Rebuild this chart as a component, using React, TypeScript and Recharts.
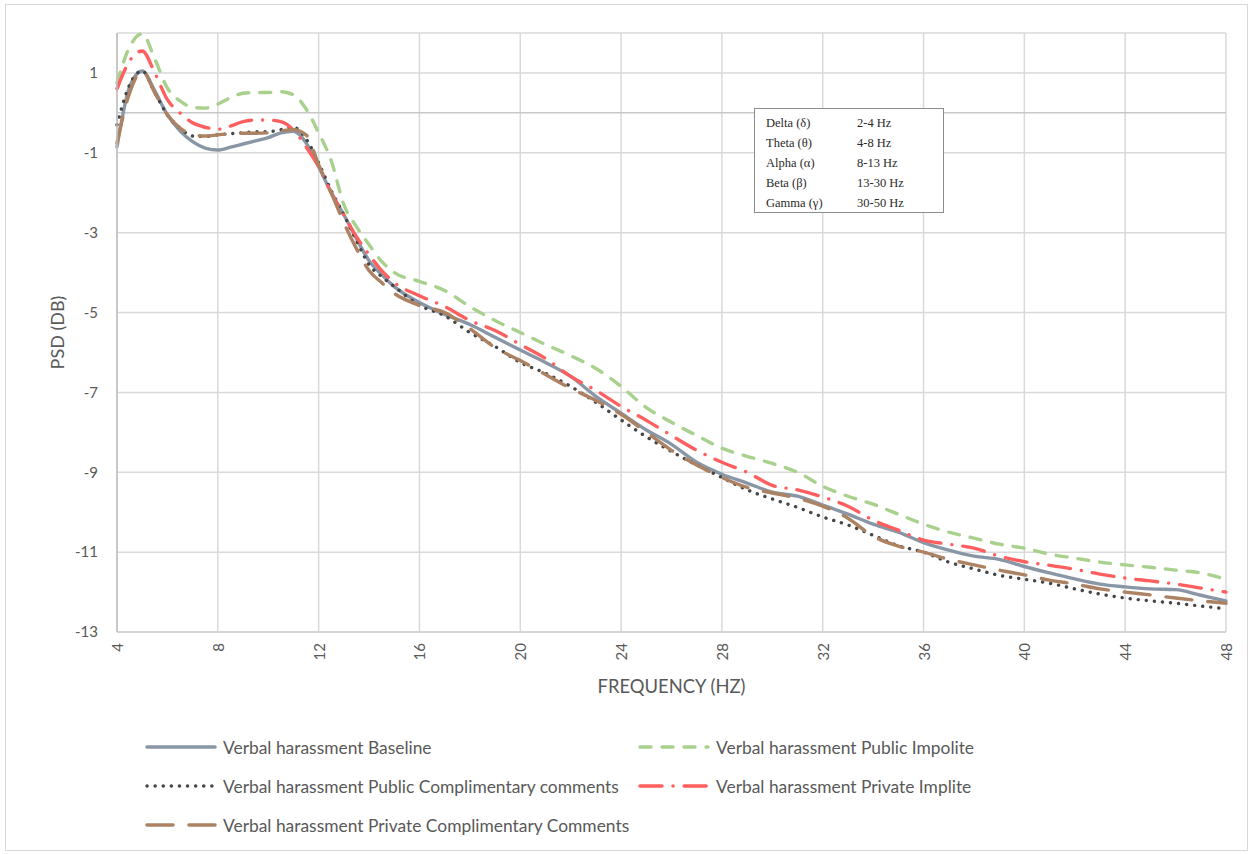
import React from 'react';
import { LineChart, Line, XAxis, YAxis, CartesianGrid, ReferenceLine, Legend, Label } from 'recharts';

const FREQ = [4, 4.5, 5, 5.5, 6, 6.5, 7, 7.5, 8, 8.5, 9, 9.5, 10, 10.5, 11, 11.5, 12, 12.5, 13, 13.5, 14, 14.5, 15,
  16, 17, 18, 19, 20, 21, 22, 23, 24, 25, 26, 27, 28, 29, 30, 31, 32, 33, 34, 35, 36, 37, 38, 39, 40, 41, 42, 43, 44, 45, 46, 47, 48];

const BASELINE = [-0.85, 0.65, 1.05, 0.55, -0.05, -0.45, -0.72, -0.88, -0.93, -0.86, -0.78, -0.7, -0.62, -0.5, -0.46, -0.75, -1.35, -2.0, -2.55, -3.15, -3.7, -4.05, -4.35,
  -4.75, -5.05, -5.3, -5.62, -5.94, -6.25, -6.6, -7.1, -7.52, -7.94, -8.3, -8.75, -9.05, -9.27, -9.5, -9.6, -9.82, -10.05, -10.3, -10.5, -10.76, -10.95, -11.1, -11.18, -11.36, -11.52, -11.67, -11.8, -11.87, -11.92, -11.94, -12.08, -12.22];

const PUBLIC_IMPOLITE = [0.75, 1.65, 1.98, 1.35, 0.62, 0.3, 0.14, 0.12, 0.22, 0.38, 0.49, 0.51, 0.51, 0.53, 0.45, 0.1, -0.5, -1.2, -2.3, -2.85, -3.3, -3.72, -4.0,
  -4.22, -4.45, -4.85, -5.2, -5.5, -5.8, -6.08, -6.4, -6.85, -7.38, -7.75, -8.08, -8.4, -8.6, -8.78, -9.0, -9.35, -9.6, -9.8, -10.05, -10.3, -10.5, -10.65, -10.8, -10.9, -11.05, -11.15, -11.25, -11.32, -11.38, -11.45, -11.52, -11.68];

const PUBLIC_COMPLIMENTARY = [-0.3, 0.7, 1.05, 0.5, -0.05, -0.38, -0.58, -0.59, -0.55, -0.52, -0.5, -0.47, -0.47, -0.42, -0.36, -0.65, -1.25, -1.95, -2.55, -3.2, -3.8, -4.1, -4.35,
  -4.82, -5.08, -5.5, -5.85, -6.25, -6.52, -6.85, -7.25, -7.69, -8.11, -8.48, -8.82, -9.13, -9.44, -9.67, -9.88, -10.12, -10.32, -10.58, -10.84, -11.0, -11.25, -11.42, -11.58, -11.68, -11.78, -11.92, -12.05, -12.15, -12.22, -12.28, -12.35, -12.42];

const PRIVATE_IMPOLITE = [0.6, 1.3, 1.55, 1.0, 0.33, 0.0, -0.25, -0.36, -0.41, -0.33, -0.22, -0.18, -0.18, -0.22, -0.43, -0.85, -1.35, -2.0, -2.55, -3.1, -3.55, -3.95, -4.25,
  -4.58, -4.85, -5.2, -5.45, -5.8, -6.15, -6.6, -6.95, -7.35, -7.7, -8.08, -8.45, -8.75, -9.0, -9.33, -9.44, -9.62, -9.85, -10.2, -10.45, -10.7, -10.8, -10.9, -11.1, -11.24, -11.33, -11.43, -11.55, -11.65, -11.72, -11.8, -11.9, -12.0];

const PRIVATE_COMPLIMENTARY = [-0.75, 0.5, 1.05, 0.5, -0.05, -0.38, -0.55, -0.58, -0.55, -0.52, -0.51, -0.51, -0.5, -0.45, -0.42, -0.55, -1.3, -2.0, -2.75, -3.4, -3.95, -4.25, -4.52,
  -4.82, -5.0, -5.4, -5.88, -6.2, -6.55, -6.9, -7.2, -7.55, -8.0, -8.45, -8.82, -9.13, -9.38, -9.52, -9.65, -9.85, -10.15, -10.6, -10.85, -11.0, -11.18, -11.32, -11.45, -11.57, -11.7, -11.8, -11.92, -12.0, -12.07, -12.15, -12.22, -12.28];

const X_TICKS = [4, 8, 12, 16, 20, 24, 28, 32, 36, 40, 44, 48];
const Y_TICKS = [-13, -11, -9, -7, -5, -3, -1, 1];

const BAND_NAMES = ['Delta (δ)', 'Theta (θ)', 'Alpha (α)', 'Beta (β)', 'Gamma (γ)'];
const BAND_RANGES = ['2-4 Hz', '4-8 Hz', '8-13 Hz', '13-30 Hz', '30-50 Hz'];

const SERIES = [
  { key: 'baseline', name: 'Verbal harassment Baseline', values: BASELINE, color: '#8896A6', dash: undefined as string | undefined, cap: 'round' },
  { key: 'pubImp', name: 'Verbal harassment Public Impolite', values: PUBLIC_IMPOLITE, color: '#A9D18E', dash: '11 11', cap: 'round' },
  { key: 'pubComp', name: 'Verbal harassment Public Complimentary comments', values: PUBLIC_COMPLIMENTARY, color: '#474747', dash: '0.1 8', cap: 'round' },
  { key: 'privImp', name: 'Verbal harassment Private Implite', values: PRIVATE_IMPOLITE, color: '#FF5F5F', dash: '22 11 0.1 11', cap: 'round' },
  { key: 'privComp', name: 'Verbal harassment Private Complimentary Comments', values: PRIVATE_COMPLIMENTARY, color: '#AD8262', dash: '26 16', cap: 'round' },
];

const LEGEND_ORDER = ['baseline', 'pubImp', 'pubComp', 'privImp', 'privComp'];

const data = FREQ.map((f, i) => {
  const row: Record<string, number> = { f };
  SERIES.forEach((s) => { row[s.key] = s.values[i]; });
  return row;
});

const FONT = 'Lato, "Open Sans", sans-serif';
const TEXT = '#595959';

const XTick = (props: any) => {
  const { x, y, payload } = props;
  return (
    <text x={x} y={y} transform={`rotate(-90 ${x} ${y})`} textAnchor="end" dominantBaseline="central"
      fill={TEXT} fontSize={15} fontFamily={FONT}>{payload.value}</text>
  );
};

const LegendContent = () => {
  const items = LEGEND_ORDER.map((k) => SERIES.find((s) => s.key === k)!);
  return (
    <div style={{ position: 'relative', width: 1254, height: 110 }}>
      {items.map((s, i) => {
        const col = i % 2;
        const row = Math.floor(i / 2);
        const left = col === 0 ? 145 : 638;
        const top = row * 39;
        return (
          <div key={s.key} style={{ position: 'absolute', left, top, display: 'flex', alignItems: 'center', height: 20, whiteSpace: 'nowrap' }}>
            <svg width={72} height={10} style={{ display: 'block' }}>
              <line x1={2} y1={5} x2={70} y2={5} stroke={s.color} strokeWidth={3.5}
                strokeDasharray={s.dash} strokeLinecap={s.cap as any} />
            </svg>
            <span style={{ marginLeft: 6, fontFamily: FONT, fontSize: 17.4, color: TEXT }}>{s.name}</span>
          </div>
        );
      })}
    </div>
  );
};

export default function App() {
  return (
    <div style={{ position: 'absolute', left: 0, top: 0, width: 1254, height: 854, background: '#fff' }}>
      <div style={{ position: 'absolute', left: 5, top: 4, width: 1241, height: 845, border: '1px solid #d9d9d9' }} />
      <LineChart width={1254} height={854} data={data}
        margin={{ top: 33, right: 28, left: 57, bottom: 182 }}>
        <CartesianGrid stroke="#d9d9d9" strokeWidth={1.5} vertical={true} horizontal={true} />
        <XAxis dataKey="f" type="number" domain={[4, 48]} ticks={X_TICKS} interval={0} height={40}
          axisLine={{ stroke: '#d0d0d0', strokeWidth: 1.5 }} tickLine={false} tickSize={0} tickMargin={11}
          tick={<XTick />}>
          <Label content={(p: any) => (
            <text x={p.viewBox.x + p.viewBox.width / 2} y={686} textAnchor="middle" dominantBaseline="central"
              fill={TEXT} fontSize={18.4} fontFamily={FONT}>FREQUENCY (HZ)</text>
          )} />
        </XAxis>
        <YAxis type="number" domain={[-13, 2]} ticks={Y_TICKS} interval={0} width={60}
          axisLine={{ stroke: '#bfbfbf', strokeWidth: 1.5 }} tickLine={false} tickSize={0} tickMargin={19}
          tick={{ fill: TEXT, fontSize: 15, fontFamily: FONT }}>
          <Label content={(p: any) => (
            <text x={p.viewBox.x} y={p.viewBox.y + p.viewBox.height / 2} transform={`rotate(-90 ${p.viewBox.x} ${p.viewBox.y + p.viewBox.height / 2})`}
              textAnchor="middle" dominantBaseline="central" fill={TEXT} fontSize={18} fontFamily={FONT}>PSD (DB)</text>
          )} />
        </YAxis>
        <ReferenceLine y={0} stroke="#c8c8c8" strokeWidth={1.5} />
        {SERIES.map((s) => (
          <Line key={s.key} dataKey={s.key} name={s.name} type="monotone" stroke={s.color} strokeWidth={3.4}
            strokeDasharray={s.dash} strokeLinecap={s.cap as any} dot={false} activeDot={false}
            isAnimationActive={false} />
        ))}
        <Legend layout="horizontal" verticalAlign="middle" align="center" content={<LegendContent />}
          wrapperStyle={{ position: 'absolute', left: 0, top: 737, width: 1254, height: 110 }} />
      </LineChart>
      <div style={{ position: 'absolute', left: 754, top: 108, width: 190, height: 105, border: '1.5px solid #8c8c8c',
        background: '#fff', boxSizing: 'border-box', fontFamily: '"Liberation Serif", "DejaVu Serif", serif', fontSize: 12.5, color: '#2a2a2a' }}>
        {BAND_NAMES.map((b, i) => (
          <div key={b} style={{ position: 'absolute', left: 11, top: 7 + i * 20, height: 15, lineHeight: '15px', whiteSpace: 'nowrap' }}>
            <span style={{ display: 'inline-block', width: 91 }}>{b}</span>
            <span>{BAND_RANGES[i]}</span>
          </div>
        ))}
      </div>
    </div>
  );
}
